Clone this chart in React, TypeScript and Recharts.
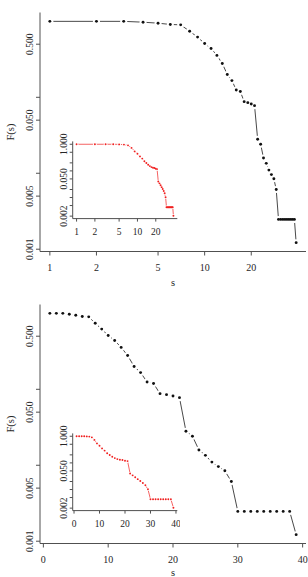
import React from 'react';
import { LineChart, Line, XAxis, YAxis } from 'recharts';

// component size s
const sizes = [
  1, 2, 3, 4, 5, 6, 7, 8, 9, 10,
  11, 12, 13, 14, 15, 16, 17, 18, 19, 20,
  21, 22, 23, 24, 25, 26, 27, 28, 29, 30,
  31, 32, 33, 34, 35, 36, 37, 38, 39,
];

// F(s) over all components
const fAll = [
  1.0, 1.0, 1.0, 0.975, 0.946, 0.91, 0.9, 0.74, 0.62, 0.51,
  0.44, 0.356, 0.279, 0.2, 0.166, 0.125, 0.119, 0.0877, 0.085, 0.0815,
  0.0776, 0.0281, 0.0241, 0.0159, 0.0135, 0.011, 0.0096, 0.00845, 0.0061,
  0.00247, 0.00247, 0.00247, 0.00247, 0.00247, 0.00247, 0.00247, 0.00247, 0.00247,
  0.00122,
];

// F(s) inside the largest component
const fLargest = [
  1.0, 1.0, 1.0, 1.0, 0.99, 0.97, 0.91, 0.73, 0.54, 0.44,
  0.35, 0.29, 0.23, 0.197, 0.17, 0.151, 0.139, 0.131, 0.128, 0.12,
  0.117, 0.04, 0.034, 0.029, 0.0245, 0.0208, 0.0175, 0.0145, 0.0102,
  0.0043, 0.0043, 0.0043, 0.0043, 0.0043, 0.0043, 0.0043, 0.0043, 0.0043,
  0.00207,
];

const logXTicks = [1, 2, 5, 10, 20];
const linXTicks = [0, 10, 20, 30, 40];
const mainYTicks = [0.001, 0.005, 0.01, 0.05, 0.1, 0.5];
const mainYLabelled = [0.001, 0.005, 0.05, 0.5];
const insetYTicks = [0.002, 0.005, 0.01, 0.02, 0.05, 0.1, 0.2, 0.5, 1];
const insetYLabelled = [0.002, 0.05, 1];

const rows = sizes.map((s, i) => ({ s, all: fAll[i], largest: fLargest[i] }));

const FONT = "'Liberation Serif', 'Times New Roman', serif";
const INK = '#262626';
const FRAME = '#505050';

// 4% padding on each side, like base R plots
const padLinear = (vals: number[]): [number, number] => {
  const lo = Math.min(...vals);
  const hi = Math.max(...vals);
  const d = (hi - lo) * 0.04;
  return [lo - d, hi + d];
};
const padLog = (vals: number[]): [number, number] => {
  const lo = Math.log10(Math.min(...vals));
  const hi = Math.log10(Math.max(...vals));
  const d = (hi - lo) * 0.04;
  return [10 ** (lo - d), 10 ** (hi + d)];
};

const makeDot = (r: number, fill: string) => (p: any) =>
  p.cx == null || p.cy == null ? (
    <g key={p.index} />
  ) : (
    <circle key={p.index} cx={p.cx} cy={p.cy} r={r} fill={fill} stroke="none" />
  );

const bottomTick = (dy: number, size: number) => (p: any) => (
  <text x={p.x} y={p.y} dy={dy} textAnchor="middle" fontFamily={FONT} fontSize={size} fill={INK}>
    {p.payload.value}
  </text>
);

// y labels run parallel to the axis; only some ticks carry text
const leftTick = (labelled: number[], size: number) => (p: any) =>
  labelled.some((v) => Math.abs(v - p.payload.value) < 1e-9) ? (
    <text
      x={p.x}
      y={p.y}
      transform={`rotate(-90 ${p.x} ${p.y})`}
      textAnchor="middle"
      fontFamily={FONT}
      fontSize={size}
      fill={INK}
    >
      {Number(p.payload.value).toFixed(3)}
    </text>
  ) : (
    <g />
  );

function Inset({ logX }: { logX: boolean }) {
  const xDomain = logX ? padLog(sizes) : padLinear(sizes);
  const yDomain = padLog(fLargest);
  return (
    <div style={{ position: 'absolute', left: 40, top: 125, width: 140, height: 115 }}>
      <LineChart width={140} height={115} data={rows} margin={{ top: 16.4, right: 2.7, bottom: 0, left: 0 }}>
        <XAxis
          dataKey="s"
          type="number"
          scale={logX ? 'log' : 'linear'}
          domain={xDomain}
          allowDataOverflow
          ticks={logX ? logXTicks : linXTicks}
          interval={0}
          height={21.4}
          tickSize={3}
          stroke={FRAME}
          tick={bottomTick(11.5, 9.5)}
        />
        <YAxis
          type="number"
          scale="log"
          domain={yDomain}
          allowDataOverflow
          ticks={insetYTicks}
          interval={0}
          width={32.7}
          tickSize={3}
          tickMargin={3}
          stroke={FRAME}
          tick={leftTick(insetYLabelled, 9.5)}
        />
        <XAxis
          xAxisId="frame"
          orientation="top"
          type="number"
          domain={[0, 1]}
          height={0}
          tick={false}
          tickLine={false}
          stroke={FRAME}
          label={{
            content: ({ viewBox }: any) => (
              <text
                x={viewBox.x + viewBox.width / 2}
                y={viewBox.y - 3}
                textAnchor="middle"
                fontFamily={FONT}
                fontSize={10.5}
                fill={INK}
              >
                Largest component
              </text>
            ),
          }}
        />
        <YAxis yAxisId="frame" orientation="right" type="number" domain={[0, 1]} width={0} tick={false} tickLine={false} stroke={FRAME} />
        <Line
          dataKey="largest"
          type="linear"
          stroke="#f02020"
          strokeWidth={0.7}
          dot={makeDot(1.8, '#ffffff')}
          activeDot={false}
          isAnimationActive={false}
        />
        <Line
          dataKey="largest"
          type="linear"
          stroke="none"
          dot={makeDot(0.95, '#f02020')}
          activeDot={false}
          isAnimationActive={false}
        />
      </LineChart>
    </div>
  );
}

function Panel({ logX, top, titleOffset }: { logX: boolean; top: number; titleOffset: number }) {
  const xDomain = logX ? padLog(sizes) : padLinear(sizes);
  const yDomain = padLog(fAll);
  return (
    <div style={{ position: 'absolute', left: 0, top, width: 308, height: 292 }}>
      <LineChart width={308} height={292} data={rows} margin={{ top: 12.5, right: 2, bottom: 0.5, left: 0 }}>
        <XAxis
          dataKey="s"
          type="number"
          scale={logX ? 'log' : 'linear'}
          domain={xDomain}
          allowDataOverflow
          ticks={logX ? logXTicks : linXTicks}
          interval={0}
          height={40}
          tickSize={4}
          stroke={FRAME}
          tick={bottomTick(13.5, 10)}
          label={{
            content: ({ viewBox }: any) => (
              <text
                x={viewBox.x + viewBox.width / 2}
                y={viewBox.y + titleOffset}
                textAnchor="middle"
                fontFamily={FONT}
                fontSize={10.5}
                fill={INK}
              >
                s
              </text>
            ),
          }}
        />
        <YAxis
          type="number"
          scale="log"
          domain={yDomain}
          allowDataOverflow
          ticks={mainYTicks}
          interval={0}
          width={40}
          tickSize={4}
          tickMargin={2.5}
          stroke={FRAME}
          tick={leftTick(mainYLabelled, 9.5)}
          label={{
            content: ({ viewBox }: any) => {
              const cy = viewBox.y + viewBox.height / 2;
              return (
                <text
                  x={13.5}
                  y={cy}
                  transform={`rotate(-90 13.5 ${cy})`}
                  textAnchor="middle"
                  fontFamily={FONT}
                  fontSize={10.5}
                  fill={INK}
                >
                  F(s)
                </text>
              );
            },
          }}
        />
        <XAxis xAxisId="frame" orientation="top" type="number" domain={[0, 1]} height={0} tick={false} tickLine={false} stroke={FRAME} />
        <YAxis yAxisId="frame" orientation="right" type="number" domain={[0, 1]} width={0} tick={false} tickLine={false} stroke={FRAME} />
        <Line
          dataKey="all"
          type="linear"
          stroke="#1a1a1a"
          strokeWidth={0.8}
          dot={makeDot(3.5, '#ffffff')}
          activeDot={false}
          isAnimationActive={false}
        />
        <Line
          dataKey="all"
          type="linear"
          stroke="none"
          dot={makeDot(1.45, '#111111')}
          activeDot={false}
          isAnimationActive={false}
        />
      </LineChart>
      <Inset logX={logX} />
    </div>
  );
}

export default function App() {
  return (
    <div style={{ position: 'absolute', left: 0, top: 0, width: 308, height: 577, background: '#fff', overflow: 'hidden' }}>
      <Panel logX top={0} titleOffset={34.5} />
      <Panel logX={false} top={292.3} titleOffset={32} />
    </div>
  );
}
